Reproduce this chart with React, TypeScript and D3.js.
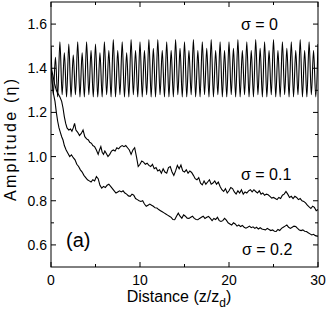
import React from "react";
import * as d3 from "d3";

// sigma = 0: oscillation, read as extremes on a quarter-period grid (period 1 z_d)
const sigma0Peaks = [1.50, 1.52, 1.51, 1.52, 1.52, 1.51, 1.52, 1.53, 1.52, 1.53, 1.52, 1.53, 1.53, 1.52, 1.53, 1.52,
  1.53, 1.52, 1.53, 1.52, 1.52, 1.53, 1.52, 1.53, 1.52, 1.53, 1.52, 1.52, 1.53, 1.52, 1.51];
const sigma0Shoulders = [1.45, 1.47, 1.46, 1.47, 1.48, 1.47, 1.48, 1.48, 1.47, 1.48, 1.48, 1.49, 1.48, 1.48, 1.49,
  1.48, 1.48, 1.49, 1.48, 1.48, 1.49, 1.48, 1.48, 1.49, 1.48, 1.48, 1.49, 1.48, 1.48, 1.48];
const sigma0Troughs = [1.28, 1.27, 1.28, 1.27, 1.27, 1.28, 1.27, 1.27, 1.28, 1.27, 1.27, 1.27, 1.28, 1.27, 1.27,
  1.28, 1.27, 1.27, 1.28, 1.27, 1.27, 1.28, 1.27, 1.27, 1.28, 1.27, 1.27, 1.27, 1.28, 1.27, 1.27, 1.28, 1.27,
  1.27, 1.28, 1.27, 1.27, 1.28, 1.27, 1.27, 1.28, 1.27, 1.27, 1.28, 1.27, 1.27, 1.28, 1.27, 1.27, 1.28, 1.27,
  1.27, 1.28, 1.27, 1.27, 1.28, 1.27, 1.27, 1.28, 1.27];

// sigma = 0.1
const sigma01Z = [0, 0.2, 0.4, 0.6, 0.8, 1.0, 1.2, 1.35, 1.5, 1.65, 1.8, 2.0, 2.2, 2.35, 2.5, 2.65, 2.8, 3.0, 3.2,
  3.4, 3.6, 3.8, 4.0, 4.2, 4.35, 4.55, 4.7, 4.9, 5.1, 5.3, 5.45, 5.6, 5.75, 5.9, 6.05, 6.2, 6.4, 6.6, 6.8, 7.0,
  7.2, 7.4, 7.6, 7.8, 8.0, 8.2, 8.4, 8.6, 8.8, 9.0, 9.2, 9.4, 9.6, 9.8, 10.0, 10.2, 10.4, 10.6, 10.8, 11.0, 11.2,
  11.4, 11.6, 11.8, 12.0, 12.2, 12.4, 12.6, 12.8, 13.0, 13.2, 13.4, 13.6, 13.8, 14.0, 14.2, 14.4, 14.6, 14.8,
  15.0, 15.2, 15.4, 15.6, 15.8, 16.0, 16.2, 16.4, 16.6, 16.8, 17.0, 17.2, 17.4, 17.6, 17.8, 18.0, 18.2, 18.4,
  18.6, 18.8, 19.0, 19.2, 19.4, 19.6, 19.8, 20.0, 20.2, 20.4, 20.6, 20.8, 21.0, 21.2, 21.4, 21.6, 21.8, 22.0,
  22.2, 22.4, 22.6, 22.8, 23.0, 23.2, 23.4, 23.6, 23.8, 24.0, 24.2, 24.4, 24.6, 24.8, 25.0, 25.2, 25.4, 25.6,
  25.8, 26.0, 26.2, 26.4, 26.6, 26.8, 27.0, 27.2, 27.4, 27.6, 27.8, 28.0, 28.2, 28.4, 28.6, 28.8, 29.0, 29.2,
  29.4, 29.6, 29.8, 30.0];
const sigma01Eta = [1.40, 1.37, 1.33, 1.30, 1.285, 1.27, 1.25, 1.22, 1.18, 1.15, 1.13, 1.12, 1.125, 1.115, 1.13,
  1.15, 1.12, 1.11, 1.095, 1.105, 1.12, 1.09, 1.08, 1.075, 1.065, 1.06, 1.05, 1.045, 1.03, 1.01, 1.03, 1.045,
  1.02, 1.01, 1.025, 1.015, 1.0, 1.01, 1.025, 1.03, 1.025, 1.04, 1.035, 1.045, 1.05, 1.045, 1.05, 1.04, 1.03,
  1.01, 1.03, 1.04, 1.0, 0.955, 0.965, 0.98, 0.975, 0.965, 0.97, 0.96, 0.955, 0.965, 0.945, 0.95, 0.935, 0.94,
  0.925, 0.945, 0.93, 0.925, 0.95, 0.955, 0.93, 0.915, 0.935, 0.96, 0.945, 0.962, 0.935, 0.93, 0.94, 0.925,
  0.935, 0.928, 0.915, 0.9, 0.895, 0.905, 0.88, 0.872, 0.89, 0.875, 0.885, 0.895, 0.875, 0.88, 0.89, 0.875,
  0.885, 0.865, 0.85, 0.842, 0.855, 0.835, 0.845, 0.86, 0.855, 0.84, 0.83, 0.845, 0.835, 0.85, 0.83, 0.84,
  0.835, 0.845, 0.85, 0.84, 0.85, 0.842, 0.835, 0.845, 0.83, 0.835, 0.825, 0.83, 0.827, 0.82, 0.812, 0.815,
  0.81, 0.805, 0.815, 0.81, 0.825, 0.83, 0.842, 0.83, 0.815, 0.82, 0.81, 0.82, 0.815, 0.805, 0.81, 0.8, 0.797,
  0.79, 0.78, 0.772, 0.765, 0.775, 0.77, 0.755, 0.76];

// sigma = 0.2
const sigma02Z = [0, 0.15, 0.3, 0.45, 0.6, 0.75, 0.9, 1.05, 1.2, 1.35, 1.5, 1.7, 1.9, 2.1, 2.3, 2.5, 2.7, 2.9,
  3.1, 3.3, 3.5, 3.7, 3.9, 4.1, 4.3, 4.5, 4.7, 4.9, 5.1, 5.3, 5.5, 5.7, 5.9, 6.1, 6.3, 6.5, 6.7, 6.9, 7.1, 7.3,
  7.5, 7.7, 7.9, 8.1, 8.3, 8.5, 8.7, 8.9, 9.1, 9.3, 9.5, 9.7, 9.9, 10.1, 10.3, 10.5, 10.7, 10.9, 11.1, 11.3,
  11.5, 11.7, 11.9, 12.1, 12.3, 12.5, 12.7, 12.9, 13.1, 13.3, 13.5, 13.7, 13.9, 14.1, 14.3, 14.5, 14.7, 14.9,
  15.1, 15.3, 15.5, 15.7, 15.9, 16.1, 16.3, 16.5, 16.7, 16.9, 17.1, 17.3, 17.5, 17.7, 17.9, 18.1, 18.3, 18.5,
  18.7, 18.9, 19.1, 19.3, 19.5, 19.7, 19.9, 20.1, 20.3, 20.5, 20.7, 20.9, 21.1, 21.3, 21.5, 21.7, 21.9, 22.1,
  22.3, 22.5, 22.7, 22.9, 23.1, 23.3, 23.5, 23.7, 23.9, 24.1, 24.3, 24.5, 24.7, 24.9, 25.1, 25.3, 25.5, 25.7,
  25.9, 26.1, 26.3, 26.5, 26.7, 26.9, 27.1, 27.3, 27.5, 27.7, 27.9, 28.1, 28.3, 28.5, 28.7, 28.9, 29.1, 29.3,
  29.5, 29.7, 29.9, 30.0];
const sigma02Eta = [1.40, 1.33, 1.28, 1.25, 1.20, 1.16, 1.13, 1.11, 1.09, 1.075, 1.05, 1.03, 1.015, 1.0, 1.008,
  0.995, 0.985, 0.965, 0.955, 0.94, 0.93, 0.915, 0.905, 0.895, 0.89, 0.885, 0.895, 0.89, 0.91, 0.9, 0.87, 0.857,
  0.865, 0.86, 0.87, 0.875, 0.865, 0.855, 0.845, 0.835, 0.84, 0.845, 0.84, 0.845, 0.835, 0.83, 0.822, 0.82,
  0.83, 0.825, 0.81, 0.805, 0.8, 0.797, 0.8, 0.785, 0.775, 0.78, 0.785, 0.78, 0.775, 0.768, 0.767, 0.76, 0.755,
  0.75, 0.745, 0.74, 0.735, 0.73, 0.725, 0.715, 0.714, 0.73, 0.744, 0.73, 0.721, 0.736, 0.73, 0.721, 0.72,
  0.725, 0.73, 0.72, 0.715, 0.714, 0.72, 0.725, 0.73, 0.72, 0.725, 0.729, 0.72, 0.71, 0.72, 0.715, 0.725, 0.71,
  0.706, 0.71, 0.72, 0.712, 0.7, 0.695, 0.69, 0.7, 0.695, 0.685, 0.69, 0.683, 0.688, 0.68, 0.676, 0.68, 0.685,
  0.678, 0.682, 0.675, 0.68, 0.672, 0.678, 0.672, 0.67, 0.668, 0.675, 0.67, 0.665, 0.668, 0.662, 0.661, 0.67,
  0.665, 0.675, 0.68, 0.685, 0.69, 0.68, 0.675, 0.68, 0.685, 0.683, 0.675, 0.668, 0.665, 0.668, 0.662, 0.661,
  0.655, 0.65, 0.645, 0.648, 0.642, 0.64, 0.64];

const xMajorTicks = [0, 10, 20, 30];
const xMinorTicks = [5, 15, 25];
const yMajorTicks = [0.6, 0.8, 1.0, 1.2, 1.4, 1.6];
const yMinorTicks = [0.7, 0.9, 1.1, 1.3, 1.5];

const font = "'Liberation Sans', Arial, Helvetica, sans-serif";

export default function App() {
  const width = 327;
  const height = 327;
  const left = 51, right = 318, top = 2, bottom = 267;

  const x = d3.scaleLinear().domain([0, 30]).range([left, right]);
  const y = d3.scaleLinear().domain([0.5, 1.7]).range([bottom, top]);

  // interleave the sigma=0 extremes: peak, trough, shoulder, trough, ...
  const sigma0: [number, number][] = [];
  sigma0Peaks.forEach((p, k) => {
    sigma0.push([k, p]);
    if (k < sigma0Shoulders.length) {
      sigma0.push([k + 0.25, sigma0Troughs[2 * k]]);
      sigma0.push([k + 0.5, sigma0Shoulders[k]]);
      sigma0.push([k + 0.75, sigma0Troughs[2 * k + 1]]);
    }
  });
  const s01 = sigma01Z.map((z, i) => [z, sigma01Eta[i]] as [number, number]);
  const s02 = sigma02Z.map((z, i) => [z, sigma02Eta[i]] as [number, number]);

  const line = d3.line<[number, number]>()
    .x(d => x(d[0]))
    .y(d => y(d[1]));
  const smooth = d3.line<[number, number]>()
    .x(d => x(d[0]))
    .y(d => y(d[1]))
    .curve(d3.curveMonotoneX);

  return (
    <svg width={width} height={height} style={{ position: "absolute", left: 0, top: 0, background: "#fff" }}>
      <defs>
        <clipPath id="plot">
          <rect x={left} y={top} width={right - left} height={bottom - top} />
        </clipPath>
      </defs>
      <g clipPath="url(#plot)" fill="none" stroke="#000" strokeWidth={1.1}>
        <path d={smooth(sigma0) || ""} />
        <path d={line(s01) || ""} />
        <path d={line(s02) || ""} />
      </g>
      <rect x={left} y={top} width={right - left} height={bottom - top} fill="none" stroke="#000" strokeWidth={1} />
      <g stroke="#000" strokeWidth={1}>
        {xMajorTicks.map(t => (
          <g key={"xM" + t}>
            <line x1={x(t)} x2={x(t)} y1={bottom} y2={bottom - 5} />
            <line x1={x(t)} x2={x(t)} y1={top} y2={top + 5} />
          </g>
        ))}
        {xMinorTicks.map(t => (
          <g key={"xm" + t}>
            <line x1={x(t)} x2={x(t)} y1={bottom} y2={bottom - 3} />
            <line x1={x(t)} x2={x(t)} y1={top} y2={top + 3} />
          </g>
        ))}
        {yMajorTicks.map(t => (
          <g key={"yM" + t}>
            <line x1={left} x2={left + 5} y1={y(t)} y2={y(t)} />
            <line x1={right} x2={right - 5} y1={y(t)} y2={y(t)} />
          </g>
        ))}
        {yMinorTicks.map(t => (
          <g key={"ym" + t}>
            <line x1={left} x2={left + 3} y1={y(t)} y2={y(t)} />
            <line x1={right} x2={right - 3} y1={y(t)} y2={y(t)} />
          </g>
        ))}
      </g>
      <g fontFamily={font} fontSize={14} fill="#000">
        {xMajorTicks.map(t => (
          <text key={"xl" + t} x={x(t)} y={285} textAnchor="middle">{t}</text>
        ))}
        {yMajorTicks.map(t => (
          <text key={"yl" + t} x={left - 4} y={y(t) + 5} textAnchor="end">{t.toFixed(1)}</text>
        ))}
      </g>
      <text x={179} y={302} textAnchor="middle" fontFamily={font} fontSize={16}>
        Distance (z/z<tspan dy={5} fontSize={12}>d</tspan><tspan dy={-5}>)</tspan>
      </text>
      <text transform={`translate(16,140) rotate(-90)`} textAnchor="middle" fontFamily={font} fontSize={16}
        textLength={122} lengthAdjust="spacing">
        Amplitude (η)
      </text>
      <g fontFamily={font} fontSize={16} fill="#000">
        <text x={241} y={30}>σ = 0</text>
        <text x={241} y={180}>σ = 0.1</text>
        <text x={242} y={255}>σ = 0.2</text>
        <text x={66} y={247} fontSize={20}>(a)</text>
      </g>
    </svg>
  );
}
